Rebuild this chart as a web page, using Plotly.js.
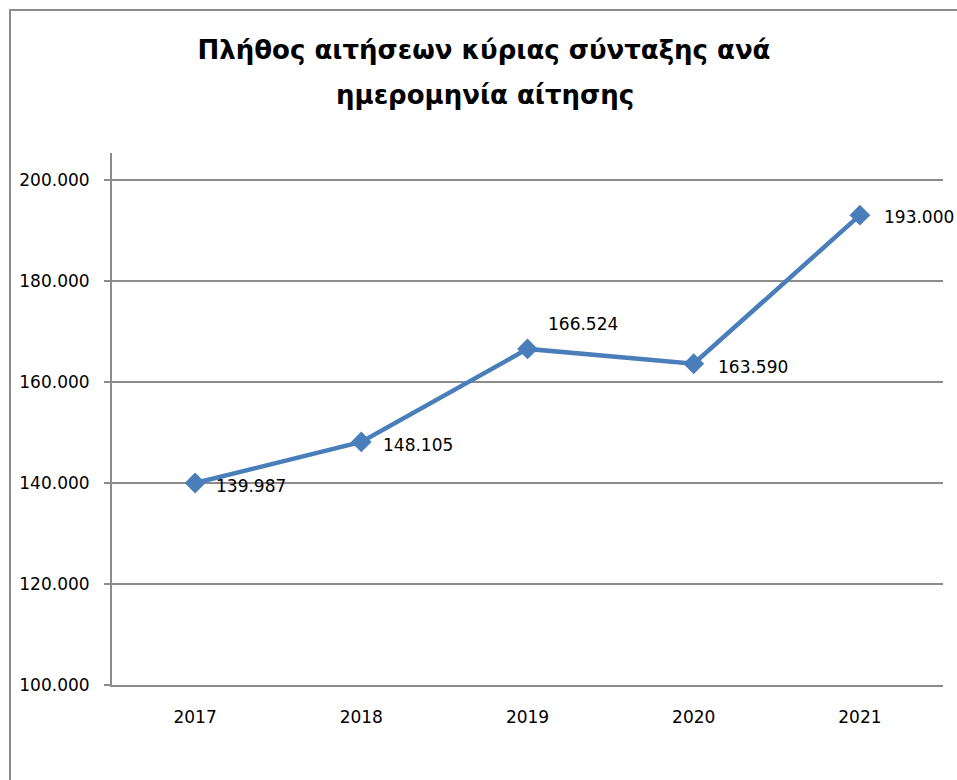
<!DOCTYPE html>
<html>
<head>
<meta charset="utf-8">
<script src="https://cdn.plot.ly/plotly-3.0.1.min.js"></script>
<style>
  html, body { margin: 0; padding: 0; background: #ffffff; overflow: hidden; }
  #chart { width: 957px; height: 780px; }
  #frame { position: absolute; left: 9px; top: 9px; width: 1200px; height: 1200px;
           border: 2px solid #8c8c8c; box-sizing: border-box; pointer-events: none; }
</style>
</head>
<body>
<div id="chart"></div>
<div id="frame"></div>
<script>
const years = ['2017', '2018', '2019', '2020', '2021'];
const requests = [139987, 148105, 166524, 163590, 193000];
const titleLine1 = 'Πλήθος αιτήσεων κύριας σύνταξης ανά';
const titleLine2 = 'ημερομηνία αίτησης';
const yTicks = [100000, 120000, 140000, 160000, 180000, 200000];

function fmt(v) {
  return String(Math.round(v)).replace(/\B(?=(\d{3})+(?!\d))/g, '.');
}

const labelShiftX = [19, 20, 18, 22, 22];
const labelShiftY = [-3, -3, 25, -3, -2];

const font = 'DejaVu Sans, sans-serif';

const trace = {
  x: years,
  y: requests,
  type: 'scatter',
  mode: 'lines+markers',
  line: { color: '#4A7EBB', width: 4.5 },
  marker: { symbol: 'diamond', size: 16, color: '#4A7EBB' },
  hoverinfo: 'x+y'
};

const annotations = years.map((yr, i) => ({
  x: i, y: requests[i], xref: 'x', yref: 'y',
  text: fmt(requests[i]), showarrow: false,
  xanchor: 'left', yanchor: 'middle',
  xshift: labelShiftX[i], yshift: labelShiftY[i],
  font: { family: font, size: 17, color: '#000000' }
}));

annotations.push({
  xref: 'paper', yref: 'paper',
  x: (485 - 112) / 831, y: (685 - 95) / 532,
  text: '<b>' + titleLine2 + '</b>', showarrow: false,
  xanchor: 'center', yanchor: 'middle',
  font: { family: font, size: 26, color: '#000000' }
});

const layout = {
  width: 957, height: 780,
  margin: { l: 112, r: 14, t: 153, b: 95 },
  paper_bgcolor: '#ffffff', plot_bgcolor: '#ffffff',
  separators: ',.',
  showlegend: false,
  title: {
    text: '<b>' + titleLine1 + '</b>',
    x: 484 / 957, xref: 'container', xanchor: 'center',
    y: 1 - 50 / 780, yref: 'container', yanchor: 'middle',
    font: { family: font, size: 26, color: '#000000' }
  },
  xaxis: {
    type: 'category',
    range: [-0.5, 4.5],
    showgrid: false,
    showline: true, linecolor: '#8c8c8c', linewidth: 2,
    ticks: '', ticklabelstandoff: 16,
    tickfont: { family: font, size: 17, color: '#000000' },
    zeroline: false, fixedrange: true
  },
  yaxis: {
    range: [100000, 205300],
    tickvals: yTicks,
    ticktext: yTicks.map(fmt),
    showgrid: true, gridcolor: '#8c8c8c', gridwidth: 1.5,
    showline: true, linecolor: '#8c8c8c', linewidth: 2,
    ticks: 'outside', ticklen: 6, tickcolor: '#8c8c8c', tickwidth: 2,
    ticklabelstandoff: 11,
    tickfont: { family: font, size: 17, color: '#000000' },
    zeroline: false, fixedrange: true
  },
  annotations: annotations
};

Plotly.newPlot('chart', [trace], layout, { displayModeBar: false, staticPlot: true });
</script>
</body>
</html>
